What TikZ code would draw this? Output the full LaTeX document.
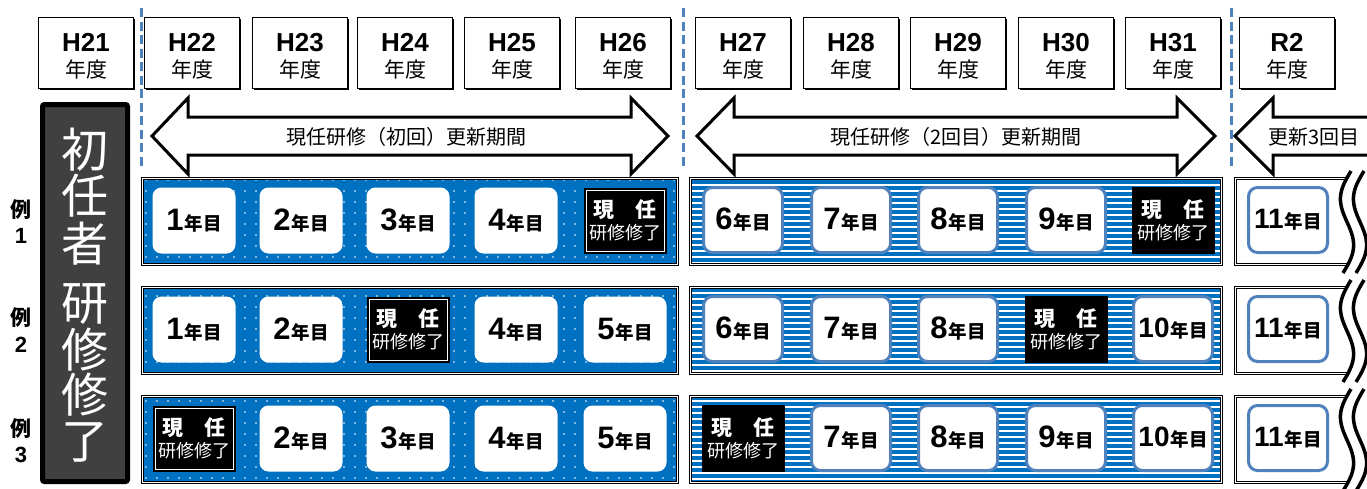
\documentclass[tikz,border=0pt]{standalone}
\usepackage{fontspec}
\setmainfont{Liberation Sans}
\newfontfamily\jp{Noto Sans CJK JP}
\usetikzlibrary{patterns.meta}
\definecolor{bandblue}{RGB}{0,112,192}
\definecolor{lineblue}{RGB}{79,129,189}
\definecolor{darkbox}{RGB}{64,64,64}
\newcommand\nenme[1]{\ifnum#1>9\relax{\fontsize{28}{28}\selectfont\bfseries #1}\else{\fontsize{31}{31}\selectfont\bfseries #1}\fi\hspace{1pt}{\jp\bfseries\fontsize{18.5}{18.5}\selectfont 年目}}
\newcommand\genin{{\jp\bfseries\fontsize{21}{21}\selectfont 現\hspace{1.0em}任}\\[4pt]{\jp\fontsize{18}{18}\selectfont 研修修了}}
\begin{document}
\begin{tikzpicture}[x=1pt,y=-1pt,
  hdr/.style={draw=black, line width=1pt, fill=white, minimum width=95pt, minimum height=71pt, inner sep=0pt},
  hdrtop/.style={font=\fontsize{26}{26}\selectfont\bfseries, inner sep=0pt},
  hdrbot/.style={font=\jp\fontsize{21}{21}\selectfont, inner sep=0pt},
  vdash/.style={draw=lineblue, line width=3pt, dash pattern=on 9pt off 4.5pt},
  bigarrow/.style={draw=black, line width=3pt, fill=white, line join=miter},
  arrowlab/.style={font=\jp\fontsize{20}{20}\selectfont, inner sep=0pt},
  frame/.style={draw=black, line width=0.9pt, double=white, double distance=1pt},
  ybox/.style={fill=white, rounded corners=9pt, minimum width=83pt, minimum height=66pt, inner sep=0pt},
  ybox2/.style={fill=white, draw=lineblue, line width=3pt, rounded corners=9pt, minimum width=79pt, minimum height=65pt, inner sep=0pt},
  geninA/.style={fill=black, minimum width=83pt, minimum height=66pt, inner sep=0pt, text=white, align=center,
    path picture={\draw[white, line width=1pt] ([shift={(2.5pt,2.5pt)}]path picture bounding box.south west) rectangle ([shift={(-2.5pt,-2.5pt)}]path picture bounding box.north east);}},
  geninB/.style={fill=black, minimum width=83pt, minimum height=67pt, inner sep=0pt, text=white, align=center},
  bigchar/.style={text=white, font=\jp\fontsize{47}{47}\selectfont, inner sep=0pt},
  rei/.style={font=\jp\bfseries\fontsize{21}{21}\selectfont, inner sep=0pt},
  reinum/.style={font=\fontsize{22}{22}\selectfont\bfseries, inner sep=0pt},
  wave/.style={draw=black, line width=3.5pt}
]
\useasboundingbox (0,0) rectangle (1367,488);
\clip (0,0) rectangle (1367,488);

% header boxes
\foreach \lab/\cx [count=\i] in {H21/86,H22/192,H23/300,H24/405,H25/512,H26/623,H27/743,H28/851,H29/958,H30/1066,H31/1173,R2/1287} {
  \fill[black] (\cx-46,18.5) rectangle ++(95,71);
  \node[hdr] (h\i) at (\cx,52.5) {};
  \node[hdrtop] (h\i a) at (\cx,42.5) {\lab};
  \node[hdrbot] (h\i b) at (\cx,69) {年度};
}

% dashed separators
\draw[vdash] (141,8) -- (141,169);
\draw[vdash] (683,8) -- (683,169);
\draw[vdash] (1231,8) -- (1231,169);

% period arrows
\draw[bigarrow] (152,136) -- (188,98) -- (188,117) -- (631,117) -- (631,98) -- (668,136) -- (631,174) -- (631,155) -- (188,155) -- (188,174) -- cycle;
\draw[bigarrow] (697,136) -- (734,98) -- (734,117) -- (1177,117) -- (1177,98) -- (1215,136) -- (1177,174) -- (1177,155) -- (734,155) -- (734,174) -- cycle;
\draw[bigarrow] (1235,136) -- (1273,98) -- (1273,117) -- (1400,117) -- (1400,155) -- (1273,155) -- (1273,174) -- cycle;
\node[arrowlab] (l1) at (406,137) {現任研修（初回）更新期間};
\node[arrowlab] (l2) at (956,137) {現任研修（2回目）更新期間};
\node[arrowlab, anchor=west] (l3) at (1268,137) {更新3回目};

% left dark box
\draw[line width=5pt, fill=darkbox, rounded corners=2pt] (42.5,104.5) rectangle (127.5,481.5);
\node[bigchar] (c1) at (85,150) {初};
\node[bigchar] (c2) at (85,196) {任};
\node[bigchar] (c3) at (85,243.5) {者};
\node[bigchar] (c4) at (85,304) {研};
\node[bigchar] (c5) at (85,350) {修};
\node[bigchar] (c6) at (85,395) {修};
\node[bigchar] (c7) at (85,442) {了};

% example labels
\node[rei] (r1a) at (21,210) {例};
\node[reinum] (r1b) at (21,236) {1};
\node[rei] (r2a) at (21,318) {例};
\node[reinum] (r2b) at (21,345) {2};
\node[rei] (r3a) at (21,429) {例};
\node[reinum] (r3b) at (21,455) {3};

% bands
\foreach \top in {177,286,395} {
  \path[fill=bandblue] (144,\top+3) rectangle (676,\top+86);
  \path[pattern={Dots[radius=0.85pt,distance=10.5pt]}, pattern color=white] (144,\top+3) rectangle (676,\top+86);
  \draw[frame] (142.5,\top+1.5) rectangle (677.5,\top+87.5);
  \path[fill=white] (692,\top+3) rectangle (1220,\top+86);
  \path[pattern={Lines[angle=0,distance=6pt,line width=3.6pt]}, pattern color=bandblue] (692,\top+3) rectangle (1220,\top+86);
  \draw[frame] (690.5,\top+1.5) rectangle (1221.5,\top+87.5);
  \path[fill=white] (1237,\top+3) rectangle (1370,\top+86);
  \draw[frame] (1235.5,\top+1.5) rectangle (1380,\top+87.5);
}

% row 1
\foreach \cx/\t [count=\i] in {194/1,301/2,408/3,516/4,625/0} {
  \ifnum\t=0 \node[geninA] (a\i) at (\cx,220.5) {\genin};
  \else \node[ybox] (a\i) at (\cx,220.5) {\nenme{\t}};\fi
}
\foreach \cx/\t [count=\i] in {743/6,851/7,958/8,1066/9,1173/0} {
  \ifnum\t=0 \node[geninB] (b\i) at (\cx,220.5) {\genin};
  \else \node[ybox2] (b\i) at (\cx,220) {\nenme{\t}};\fi
}
\node[ybox2] (c11) at (1288,220) {\nenme{11}};

% row 2
\foreach \cx/\t [count=\i] in {194/1,301/2,408/0,516/4,625/5} {
  \ifnum\t=0 \node[geninA] (d\i) at (\cx,329.5) {\genin};
  \else \node[ybox] (d\i) at (\cx,329.5) {\nenme{\t}};\fi
}
\foreach \cx/\t [count=\i] in {743/6,851/7,958/8,1066/0,1173/10} {
  \ifnum\t=0 \node[geninB] (e\i) at (\cx,329.5) {\genin};
  \else \node[ybox2] (e\i) at (\cx,329) {\nenme{\t}};\fi
}
\node[ybox2] (f11) at (1288,329) {\nenme{11}};

% row 3
\foreach \cx/\t [count=\i] in {194/0,301/2,408/3,516/4,625/5} {
  \ifnum\t=0 \node[geninA] (g\i) at (\cx,438.5) {\genin};
  \else \node[ybox] (g\i) at (\cx,438.5) {\nenme{\t}};\fi
}
\foreach \cx/\t [count=\i] in {743/0,851/7,958/8,1066/9,1173/10} {
  \ifnum\t=0 \node[geninB] (k\i) at (\cx,438.5) {\genin};
  \else \node[ybox2] (k\i) at (\cx,438) {\nenme{\t}};\fi
}
\node[ybox2] (m11) at (1288,438) {\nenme{11}};

% wave breaks
\foreach \top in {177,286,395} {
  \fill[white] plot[domain=0:1,samples=40,variable=\s] ({1351-8*\s-8.5*sin(360*\s)},{\top-6+102*\s}) -- (1375,\top+96) -- (1375,\top-6) -- cycle;
  \draw[wave] plot[domain=0:1,samples=40,variable=\s] ({1351-8*\s-8.5*sin(360*\s)},{\top-6+102*\s});
  \draw[wave] plot[domain=0:1,samples=40,variable=\s] ({1364-8*\s-8.5*sin(360*\s)},{\top-6+102*\s});
}
\end{tikzpicture}
\end{document}
